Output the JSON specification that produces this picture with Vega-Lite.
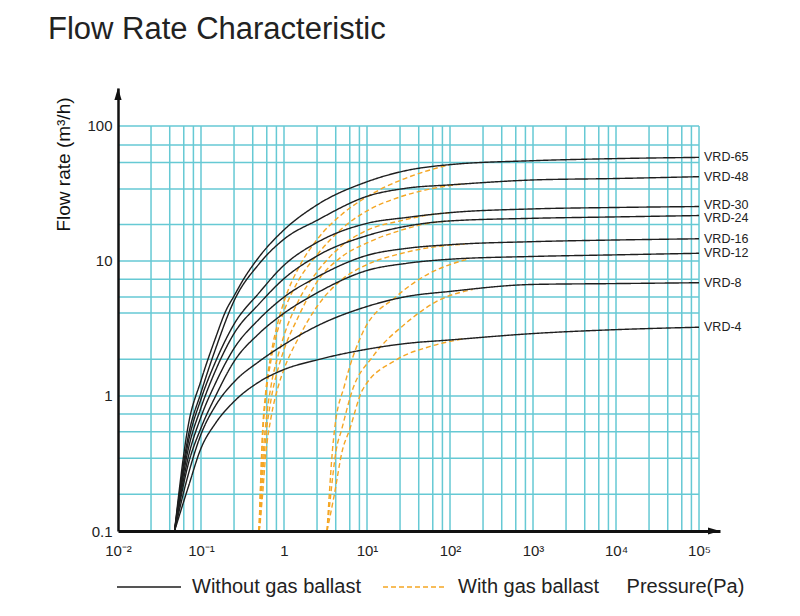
{
  "$schema": "https://vega.github.io/schema/vega-lite/v6.json",
  "width": 602,
  "height": 443,
  "autosize": {"type": "none"},
  "padding": {"left": 118, "top": 88, "right": 80, "bottom": 85},
  "background": "white",
  "title": {"text": "Flow Rate Characteristic", "anchor": "start", "frame": "group", "fontSize": 31, "font": "Liberation Sans", "fontWeight": "normal", "color": "#222222", "dx": -70, "offset": 42},
  "config": {"view": {"stroke": null}, "axis": {"labelFont": "Liberation Sans", "titleFont": "Liberation Sans"}},
  "datasets": {
    "vgrid": [
      {"v": 0.025}, {"v": 0.042}, {"v": 0.062}, {"v": 0.081}, {"v": 0.1},
      {"v": 0.25}, {"v": 0.42}, {"v": 0.62}, {"v": 0.81}, {"v": 1},
      {"v": 2.5}, {"v": 4.2}, {"v": 6.2}, {"v": 8.1}, {"v": 10},
      {"v": 25}, {"v": 42}, {"v": 62}, {"v": 81}, {"v": 100},
      {"v": 250}, {"v": 420}, {"v": 620}, {"v": 810}, {"v": 1000},
      {"v": 2500}, {"v": 4200}, {"v": 6200}, {"v": 8100}, {"v": 10000},
      {"v": 25000}, {"v": 42000}, {"v": 62000}, {"v": 81000}, {"v": 100000}
    ],
    "hgrid": [
      {"v": 0.187}, {"v": 0.346}, {"v": 0.544}, {"v": 0.735}, {"v": 1},
      {"v": 1.87}, {"v": 4.12}, {"v": 5.4}, {"v": 7.32}, {"v": 10},
      {"v": 18.6}, {"v": 34.1}, {"v": 53.5}, {"v": 72.3}, {"v": 100}
    ],
    "curves": [
      {"model": "VRD-65", "ballast": "Without gas ballast", "p": 0.048, "q": 0.1},
      {"model": "VRD-65", "ballast": "Without gas ballast", "p": 0.07, "q": 0.6},
      {"model": "VRD-65", "ballast": "Without gas ballast", "p": 0.1, "q": 1.3},
      {"model": "VRD-65", "ballast": "Without gas ballast", "p": 0.15, "q": 2.7},
      {"model": "VRD-65", "ballast": "Without gas ballast", "p": 0.2, "q": 4.3},
      {"model": "VRD-65", "ballast": "Without gas ballast", "p": 0.25, "q": 5.5},
      {"model": "VRD-65", "ballast": "Without gas ballast", "p": 0.32, "q": 7.2},
      {"model": "VRD-65", "ballast": "Without gas ballast", "p": 0.5, "q": 10.7},
      {"model": "VRD-65", "ballast": "Without gas ballast", "p": 1, "q": 17},
      {"model": "VRD-65", "ballast": "Without gas ballast", "p": 2.5, "q": 26},
      {"model": "VRD-65", "ballast": "Without gas ballast", "p": 10, "q": 38.6},
      {"model": "VRD-65", "ballast": "Without gas ballast", "p": 30, "q": 46.8},
      {"model": "VRD-65", "ballast": "Without gas ballast", "p": 100, "q": 51.7},
      {"model": "VRD-65", "ballast": "Without gas ballast", "p": 1000, "q": 55.3},
      {"model": "VRD-65", "ballast": "Without gas ballast", "p": 10000, "q": 57.3},
      {"model": "VRD-65", "ballast": "Without gas ballast", "p": 100000, "q": 58.5},

      {"model": "VRD-48", "ballast": "Without gas ballast", "p": 0.048, "q": 0.1},
      {"model": "VRD-48", "ballast": "Without gas ballast", "p": 0.07, "q": 0.5},
      {"model": "VRD-48", "ballast": "Without gas ballast", "p": 0.1, "q": 1.06},
      {"model": "VRD-48", "ballast": "Without gas ballast", "p": 0.15, "q": 2.24},
      {"model": "VRD-48", "ballast": "Without gas ballast", "p": 0.25, "q": 5.06},
      {"model": "VRD-48", "ballast": "Without gas ballast", "p": 0.5, "q": 9.5},
      {"model": "VRD-48", "ballast": "Without gas ballast", "p": 1, "q": 14.5},
      {"model": "VRD-48", "ballast": "Without gas ballast", "p": 2.5, "q": 20},
      {"model": "VRD-48", "ballast": "Without gas ballast", "p": 10, "q": 30.1},
      {"model": "VRD-48", "ballast": "Without gas ballast", "p": 30, "q": 34.6},
      {"model": "VRD-48", "ballast": "Without gas ballast", "p": 100, "q": 36.6},
      {"model": "VRD-48", "ballast": "Without gas ballast", "p": 1000, "q": 39.8},
      {"model": "VRD-48", "ballast": "Without gas ballast", "p": 10000, "q": 40.8},
      {"model": "VRD-48", "ballast": "Without gas ballast", "p": 100000, "q": 42.1},

      {"model": "VRD-30", "ballast": "Without gas ballast", "p": 0.048, "q": 0.1},
      {"model": "VRD-30", "ballast": "Without gas ballast", "p": 0.07, "q": 0.45},
      {"model": "VRD-30", "ballast": "Without gas ballast", "p": 0.1, "q": 0.95},
      {"model": "VRD-30", "ballast": "Without gas ballast", "p": 0.15, "q": 1.8},
      {"model": "VRD-30", "ballast": "Without gas ballast", "p": 0.25, "q": 3.4},
      {"model": "VRD-30", "ballast": "Without gas ballast", "p": 0.5, "q": 5.8},
      {"model": "VRD-30", "ballast": "Without gas ballast", "p": 1, "q": 9.3},
      {"model": "VRD-30", "ballast": "Without gas ballast", "p": 2.5, "q": 13.7},
      {"model": "VRD-30", "ballast": "Without gas ballast", "p": 10, "q": 19},
      {"model": "VRD-30", "ballast": "Without gas ballast", "p": 30, "q": 21},
      {"model": "VRD-30", "ballast": "Without gas ballast", "p": 100, "q": 22.8},
      {"model": "VRD-30", "ballast": "Without gas ballast", "p": 1000, "q": 24.3},
      {"model": "VRD-30", "ballast": "Without gas ballast", "p": 10000, "q": 24.9},
      {"model": "VRD-30", "ballast": "Without gas ballast", "p": 100000, "q": 25.3},

      {"model": "VRD-24", "ballast": "Without gas ballast", "p": 0.048, "q": 0.1},
      {"model": "VRD-24", "ballast": "Without gas ballast", "p": 0.07, "q": 0.4},
      {"model": "VRD-24", "ballast": "Without gas ballast", "p": 0.1, "q": 0.82},
      {"model": "VRD-24", "ballast": "Without gas ballast", "p": 0.15, "q": 1.55},
      {"model": "VRD-24", "ballast": "Without gas ballast", "p": 0.25, "q": 2.9},
      {"model": "VRD-24", "ballast": "Without gas ballast", "p": 0.5, "q": 4.8},
      {"model": "VRD-24", "ballast": "Without gas ballast", "p": 1, "q": 7.4},
      {"model": "VRD-24", "ballast": "Without gas ballast", "p": 2.5, "q": 10.9},
      {"model": "VRD-24", "ballast": "Without gas ballast", "p": 10, "q": 15.4},
      {"model": "VRD-24", "ballast": "Without gas ballast", "p": 30, "q": 18.1},
      {"model": "VRD-24", "ballast": "Without gas ballast", "p": 100, "q": 19.8},
      {"model": "VRD-24", "ballast": "Without gas ballast", "p": 1000, "q": 20.7},
      {"model": "VRD-24", "ballast": "Without gas ballast", "p": 10000, "q": 21.2},
      {"model": "VRD-24", "ballast": "Without gas ballast", "p": 100000, "q": 21.7},

      {"model": "VRD-16", "ballast": "Without gas ballast", "p": 0.048, "q": 0.1},
      {"model": "VRD-16", "ballast": "Without gas ballast", "p": 0.07, "q": 0.35},
      {"model": "VRD-16", "ballast": "Without gas ballast", "p": 0.1, "q": 0.7},
      {"model": "VRD-16", "ballast": "Without gas ballast", "p": 0.15, "q": 1.25},
      {"model": "VRD-16", "ballast": "Without gas ballast", "p": 0.25, "q": 2.25},
      {"model": "VRD-16", "ballast": "Without gas ballast", "p": 0.5, "q": 3.7},
      {"model": "VRD-16", "ballast": "Without gas ballast", "p": 1, "q": 5.4},
      {"model": "VRD-16", "ballast": "Without gas ballast", "p": 2.5, "q": 7.6},
      {"model": "VRD-16", "ballast": "Without gas ballast", "p": 10, "q": 11},
      {"model": "VRD-16", "ballast": "Without gas ballast", "p": 30, "q": 12.4},
      {"model": "VRD-16", "ballast": "Without gas ballast", "p": 100, "q": 13.2},
      {"model": "VRD-16", "ballast": "Without gas ballast", "p": 1000, "q": 13.9},
      {"model": "VRD-16", "ballast": "Without gas ballast", "p": 10000, "q": 14.3},
      {"model": "VRD-16", "ballast": "Without gas ballast", "p": 100000, "q": 14.6},

      {"model": "VRD-12", "ballast": "Without gas ballast", "p": 0.048, "q": 0.1},
      {"model": "VRD-12", "ballast": "Without gas ballast", "p": 0.07, "q": 0.31},
      {"model": "VRD-12", "ballast": "Without gas ballast", "p": 0.1, "q": 0.58},
      {"model": "VRD-12", "ballast": "Without gas ballast", "p": 0.15, "q": 1.0},
      {"model": "VRD-12", "ballast": "Without gas ballast", "p": 0.25, "q": 1.8},
      {"model": "VRD-12", "ballast": "Without gas ballast", "p": 0.5, "q": 2.9},
      {"model": "VRD-12", "ballast": "Without gas ballast", "p": 1, "q": 4.1},
      {"model": "VRD-12", "ballast": "Without gas ballast", "p": 2.5, "q": 5.8},
      {"model": "VRD-12", "ballast": "Without gas ballast", "p": 10, "q": 8.5},
      {"model": "VRD-12", "ballast": "Without gas ballast", "p": 30, "q": 9.6},
      {"model": "VRD-12", "ballast": "Without gas ballast", "p": 100, "q": 10.3},
      {"model": "VRD-12", "ballast": "Without gas ballast", "p": 1000, "q": 10.8},
      {"model": "VRD-12", "ballast": "Without gas ballast", "p": 10000, "q": 11.1},
      {"model": "VRD-12", "ballast": "Without gas ballast", "p": 100000, "q": 11.4},

      {"model": "VRD-8", "ballast": "Without gas ballast", "p": 0.048, "q": 0.1},
      {"model": "VRD-8", "ballast": "Without gas ballast", "p": 0.07, "q": 0.26},
      {"model": "VRD-8", "ballast": "Without gas ballast", "p": 0.1, "q": 0.52},
      {"model": "VRD-8", "ballast": "Without gas ballast", "p": 0.15, "q": 0.85},
      {"model": "VRD-8", "ballast": "Without gas ballast", "p": 0.25, "q": 1.27},
      {"model": "VRD-8", "ballast": "Without gas ballast", "p": 0.5, "q": 1.8},
      {"model": "VRD-8", "ballast": "Without gas ballast", "p": 1, "q": 2.4},
      {"model": "VRD-8", "ballast": "Without gas ballast", "p": 2.5, "q": 3.3},
      {"model": "VRD-8", "ballast": "Without gas ballast", "p": 10, "q": 4.6},
      {"model": "VRD-8", "ballast": "Without gas ballast", "p": 30, "q": 5.45},
      {"model": "VRD-8", "ballast": "Without gas ballast", "p": 100, "q": 5.95},
      {"model": "VRD-8", "ballast": "Without gas ballast", "p": 1000, "q": 6.7},
      {"model": "VRD-8", "ballast": "Without gas ballast", "p": 10000, "q": 6.8},
      {"model": "VRD-8", "ballast": "Without gas ballast", "p": 100000, "q": 6.9},

      {"model": "VRD-4", "ballast": "Without gas ballast", "p": 0.048, "q": 0.1},
      {"model": "VRD-4", "ballast": "Without gas ballast", "p": 0.07, "q": 0.21},
      {"model": "VRD-4", "ballast": "Without gas ballast", "p": 0.1, "q": 0.41},
      {"model": "VRD-4", "ballast": "Without gas ballast", "p": 0.15, "q": 0.63},
      {"model": "VRD-4", "ballast": "Without gas ballast", "p": 0.25, "q": 0.91},
      {"model": "VRD-4", "ballast": "Without gas ballast", "p": 0.5, "q": 1.27},
      {"model": "VRD-4", "ballast": "Without gas ballast", "p": 1, "q": 1.57},
      {"model": "VRD-4", "ballast": "Without gas ballast", "p": 2.5, "q": 1.85},
      {"model": "VRD-4", "ballast": "Without gas ballast", "p": 10, "q": 2.22},
      {"model": "VRD-4", "ballast": "Without gas ballast", "p": 30, "q": 2.45},
      {"model": "VRD-4", "ballast": "Without gas ballast", "p": 100, "q": 2.6},
      {"model": "VRD-4", "ballast": "Without gas ballast", "p": 1000, "q": 2.9},
      {"model": "VRD-4", "ballast": "Without gas ballast", "p": 10000, "q": 3.1},
      {"model": "VRD-4", "ballast": "Without gas ballast", "p": 100000, "q": 3.23},

      {"model": "VRD-65", "ballast": "With gas ballast", "p": 0.5, "q": 0.1},
      {"model": "VRD-65", "ballast": "With gas ballast", "p": 0.52, "q": 0.21},
      {"model": "VRD-65", "ballast": "With gas ballast", "p": 0.55, "q": 0.53},
      {"model": "VRD-65", "ballast": "With gas ballast", "p": 0.6, "q": 1.05},
      {"model": "VRD-65", "ballast": "With gas ballast", "p": 0.7, "q": 2.06},
      {"model": "VRD-65", "ballast": "With gas ballast", "p": 0.85, "q": 3.56},
      {"model": "VRD-65", "ballast": "With gas ballast", "p": 1, "q": 5.0},
      {"model": "VRD-65", "ballast": "With gas ballast", "p": 1.5, "q": 8.9},
      {"model": "VRD-65", "ballast": "With gas ballast", "p": 2.5, "q": 14.4},
      {"model": "VRD-65", "ballast": "With gas ballast", "p": 5, "q": 22.2},
      {"model": "VRD-65", "ballast": "With gas ballast", "p": 10, "q": 29.9},
      {"model": "VRD-65", "ballast": "With gas ballast", "p": 25, "q": 39.5},
      {"model": "VRD-65", "ballast": "With gas ballast", "p": 50, "q": 46},
      {"model": "VRD-65", "ballast": "With gas ballast", "p": 100, "q": 51.7},

      {"model": "VRD-48", "ballast": "With gas ballast", "p": 0.5, "q": 0.1},
      {"model": "VRD-48", "ballast": "With gas ballast", "p": 0.52, "q": 0.19},
      {"model": "VRD-48", "ballast": "With gas ballast", "p": 0.55, "q": 0.47},
      {"model": "VRD-48", "ballast": "With gas ballast", "p": 0.6, "q": 0.95},
      {"model": "VRD-48", "ballast": "With gas ballast", "p": 0.7, "q": 1.87},
      {"model": "VRD-48", "ballast": "With gas ballast", "p": 0.85, "q": 3.15},
      {"model": "VRD-48", "ballast": "With gas ballast", "p": 1, "q": 4.25},
      {"model": "VRD-48", "ballast": "With gas ballast", "p": 1.5, "q": 7.2},
      {"model": "VRD-48", "ballast": "With gas ballast", "p": 2.5, "q": 11.1},
      {"model": "VRD-48", "ballast": "With gas ballast", "p": 5, "q": 17.4},
      {"model": "VRD-48", "ballast": "With gas ballast", "p": 10, "q": 23.5},
      {"model": "VRD-48", "ballast": "With gas ballast", "p": 25, "q": 29.8},
      {"model": "VRD-48", "ballast": "With gas ballast", "p": 50, "q": 33.5},
      {"model": "VRD-48", "ballast": "With gas ballast", "p": 100, "q": 36.2},
      {"model": "VRD-48", "ballast": "With gas ballast", "p": 150, "q": 37.2},

      {"model": "VRD-30", "ballast": "With gas ballast", "p": 0.5, "q": 0.1},
      {"model": "VRD-30", "ballast": "With gas ballast", "p": 0.52, "q": 0.12},
      {"model": "VRD-30", "ballast": "With gas ballast", "p": 0.55, "q": 0.3},
      {"model": "VRD-30", "ballast": "With gas ballast", "p": 0.6, "q": 0.6},
      {"model": "VRD-30", "ballast": "With gas ballast", "p": 0.7, "q": 1.2},
      {"model": "VRD-30", "ballast": "With gas ballast", "p": 0.85, "q": 2.0},
      {"model": "VRD-30", "ballast": "With gas ballast", "p": 1, "q": 2.8},
      {"model": "VRD-30", "ballast": "With gas ballast", "p": 1.5, "q": 5.1},
      {"model": "VRD-30", "ballast": "With gas ballast", "p": 2.5, "q": 8.3},
      {"model": "VRD-30", "ballast": "With gas ballast", "p": 5, "q": 13.0},
      {"model": "VRD-30", "ballast": "With gas ballast", "p": 10, "q": 16.9},
      {"model": "VRD-30", "ballast": "With gas ballast", "p": 25, "q": 19.8},
      {"model": "VRD-30", "ballast": "With gas ballast", "p": 50, "q": 21.7},
      {"model": "VRD-30", "ballast": "With gas ballast", "p": 100, "q": 22.8},

      {"model": "VRD-24", "ballast": "With gas ballast", "p": 0.5, "q": 0.1},
      {"model": "VRD-24", "ballast": "With gas ballast", "p": 0.55, "q": 0.24},
      {"model": "VRD-24", "ballast": "With gas ballast", "p": 0.6, "q": 0.48},
      {"model": "VRD-24", "ballast": "With gas ballast", "p": 0.7, "q": 0.95},
      {"model": "VRD-24", "ballast": "With gas ballast", "p": 0.85, "q": 1.6},
      {"model": "VRD-24", "ballast": "With gas ballast", "p": 1, "q": 2.2},
      {"model": "VRD-24", "ballast": "With gas ballast", "p": 1.5, "q": 3.9},
      {"model": "VRD-24", "ballast": "With gas ballast", "p": 2.5, "q": 7.0},
      {"model": "VRD-24", "ballast": "With gas ballast", "p": 5, "q": 10.8},
      {"model": "VRD-24", "ballast": "With gas ballast", "p": 10, "q": 13.6},
      {"model": "VRD-24", "ballast": "With gas ballast", "p": 25, "q": 16.8},
      {"model": "VRD-24", "ballast": "With gas ballast", "p": 50, "q": 18.8},
      {"model": "VRD-24", "ballast": "With gas ballast", "p": 100, "q": 19.8},

      {"model": "VRD-16", "ballast": "With gas ballast", "p": 0.5, "q": 0.1},
      {"model": "VRD-16", "ballast": "With gas ballast", "p": 0.55, "q": 0.18},
      {"model": "VRD-16", "ballast": "With gas ballast", "p": 0.6, "q": 0.36},
      {"model": "VRD-16", "ballast": "With gas ballast", "p": 0.7, "q": 0.7},
      {"model": "VRD-16", "ballast": "With gas ballast", "p": 0.85, "q": 1.17},
      {"model": "VRD-16", "ballast": "With gas ballast", "p": 1, "q": 1.58},
      {"model": "VRD-16", "ballast": "With gas ballast", "p": 1.5, "q": 2.7},
      {"model": "VRD-16", "ballast": "With gas ballast", "p": 2.5, "q": 4.6},
      {"model": "VRD-16", "ballast": "With gas ballast", "p": 5, "q": 7.3},
      {"model": "VRD-16", "ballast": "With gas ballast", "p": 10, "q": 9.4},
      {"model": "VRD-16", "ballast": "With gas ballast", "p": 25, "q": 11.3},
      {"model": "VRD-16", "ballast": "With gas ballast", "p": 50, "q": 12.4},
      {"model": "VRD-16", "ballast": "With gas ballast", "p": 100, "q": 13.1},
      {"model": "VRD-16", "ballast": "With gas ballast", "p": 150, "q": 13.3},

      {"model": "VRD-12", "ballast": "With gas ballast", "p": 3.3, "q": 0.1},
      {"model": "VRD-12", "ballast": "With gas ballast", "p": 3.5, "q": 0.18},
      {"model": "VRD-12", "ballast": "With gas ballast", "p": 3.84, "q": 0.4},
      {"model": "VRD-12", "ballast": "With gas ballast", "p": 4.06, "q": 0.56},
      {"model": "VRD-12", "ballast": "With gas ballast", "p": 5.36, "q": 1.2},
      {"model": "VRD-12", "ballast": "With gas ballast", "p": 8.83, "q": 2.93},
      {"model": "VRD-12", "ballast": "With gas ballast", "p": 22.5, "q": 5.44},
      {"model": "VRD-12", "ballast": "With gas ballast", "p": 56.6, "q": 8.1},
      {"model": "VRD-12", "ballast": "With gas ballast", "p": 100, "q": 9.4},
      {"model": "VRD-12", "ballast": "With gas ballast", "p": 172, "q": 10.4},

      {"model": "VRD-8", "ballast": "With gas ballast", "p": 3.3, "q": 0.1},
      {"model": "VRD-8", "ballast": "With gas ballast", "p": 3.6, "q": 0.17},
      {"model": "VRD-8", "ballast": "With gas ballast", "p": 4.26, "q": 0.4},
      {"model": "VRD-8", "ballast": "With gas ballast", "p": 4.93, "q": 0.56},
      {"model": "VRD-8", "ballast": "With gas ballast", "p": 6.68, "q": 1.11},
      {"model": "VRD-8", "ballast": "With gas ballast", "p": 11.6, "q": 1.94},
      {"model": "VRD-8", "ballast": "With gas ballast", "p": 29.6, "q": 3.47},
      {"model": "VRD-8", "ballast": "With gas ballast", "p": 74.6, "q": 5.14},
      {"model": "VRD-8", "ballast": "With gas ballast", "p": 187, "q": 6.15},

      {"model": "VRD-4", "ballast": "With gas ballast", "p": 3.3, "q": 0.1},
      {"model": "VRD-4", "ballast": "With gas ballast", "p": 4, "q": 0.18},
      {"model": "VRD-4", "ballast": "With gas ballast", "p": 5.07, "q": 0.4},
      {"model": "VRD-4", "ballast": "With gas ballast", "p": 6.15, "q": 0.56},
      {"model": "VRD-4", "ballast": "With gas ballast", "p": 8.83, "q": 1.11},
      {"model": "VRD-4", "ballast": "With gas ballast", "p": 22.5, "q": 1.85},
      {"model": "VRD-4", "ballast": "With gas ballast", "p": 56.6, "q": 2.32},
      {"model": "VRD-4", "ballast": "With gas ballast", "p": 143, "q": 2.65}
    ]
  },
  "layer": [
    {
      "data": {"name": "vgrid"},
      "mark": {"type": "rule", "stroke": "#66c9d4", "strokeWidth": 1.5},
      "encoding": {
        "x": {"field": "v", "type": "quantitative", "scale": {"type": "log", "domain": [0.01, 179000], "nice": false},
          "axis": {"values": [0.01, 0.1, 1, 10, 100, 1000, 10000, 100000], "grid": false, "ticks": false, "domain": true, "domainColor": "#111111", "domainWidth": 2.8, "labelFontSize": 15, "labelColor": "#222222", "labelPadding": 12, "labelFlush": false, "labelOverlap": false, "zindex": 2,
            "labelExpr": "datum.value < 0.05 ? '10⁻²' : datum.value < 0.5 ? '10⁻¹' : datum.value < 5 ? '1' : datum.value < 50 ? '10¹' : datum.value < 500 ? '10²' : datum.value < 5000 ? '10³' : datum.value < 50000 ? '10⁴' : '10⁵'",
            "title": "Pressure(Pa)", "titleFontSize": 20, "titleFontWeight": "normal", "titleColor": "#222222", "titleX": 567, "titleY": 55, "titleAlign": "center", "titleBaseline": "middle"}},
        "y": {"datum": 0.1, "type": "quantitative", "scale": {"type": "log", "domain": [0.1, 191], "nice": false},
          "axis": {"values": [0.1, 1, 10, 100], "grid": false, "ticks": false, "domain": true, "domainColor": "#111111", "domainWidth": 2.5, "labelFontSize": 15, "labelColor": "#222222", "labelPadding": 6, "labelFlush": false, "labelOverlap": false, "zindex": 2,
            "labelExpr": "datum.value < 0.5 ? '0.1' : datum.value < 5 ? '1' : datum.value < 50 ? '10' : '100'",
            "title": "Flow rate (m³/h)", "titleFontSize": 19, "titleFontWeight": "normal", "titleColor": "#111111", "titleX": -55, "titleY": 76, "titleAngle": 270, "titleAlign": "center", "titleBaseline": "middle"}},
        "y2": {"datum": 100}
      }
    },
    {
      "data": {"name": "hgrid"},
      "mark": {"type": "rule", "stroke": "#66c9d4", "strokeWidth": 1.5},
      "encoding": {
        "y": {"field": "v", "type": "quantitative", "title": "Flow rate (m³/h)"},
        "x": {"datum": 0.01, "type": "quantitative", "title": "Pressure(Pa)"},
        "x2": {"datum": 100000}
      }
    },
    {
      "data": {"name": "curves"},
      "transform": [{"filter": "datum.ballast == 'With gas ballast'"}],
      "mark": {"type": "line", "interpolate": "monotone", "strokeWidth": 1.4},
      "encoding": {
        "x": {"field": "p", "type": "quantitative", "title": "Pressure(Pa)"},
        "y": {"field": "q", "type": "quantitative", "title": "Flow rate (m³/h)"},
        "detail": {"field": "model"},
        "color": {"field": "ballast", "type": "nominal", "scale": {"domain": ["Without gas ballast", "With gas ballast"], "range": ["#1e1e1e", "#f5a623"]},
          "legend": {"orient": "none", "legendX": -2, "legendY": 466, "direction": "horizontal", "title": null, "symbolType": "stroke", "symbolSize": 4096, "symbolStrokeWidth": 1.6, "labelFontSize": 20, "labelFont": "Liberation Sans", "labelColor": "#222222", "labelOffset": 10, "columnPadding": 18, "labelLimit": 400}},
        "strokeDash": {"field": "ballast", "type": "nominal", "scale": {"domain": ["Without gas ballast", "With gas ballast"], "range": [[1, 0], [5, 3]]},
          "legend": {"orient": "none", "legendX": -2, "legendY": 466, "direction": "horizontal", "title": null, "symbolType": "stroke", "symbolSize": 4096, "symbolStrokeWidth": 1.6, "labelFontSize": 20, "labelFont": "Liberation Sans", "labelColor": "#222222", "labelOffset": 10, "columnPadding": 18, "labelLimit": 400}}
      }
    },
    {
      "data": {"name": "curves"},
      "transform": [{"filter": "datum.ballast == 'Without gas ballast'"}],
      "mark": {"type": "line", "interpolate": "monotone", "strokeWidth": 1.4},
      "encoding": {
        "x": {"field": "p", "type": "quantitative", "title": "Pressure(Pa)"},
        "y": {"field": "q", "type": "quantitative", "title": "Flow rate (m³/h)"},
        "detail": {"field": "model"},
        "color": {"field": "ballast", "type": "nominal", "scale": {"domain": ["Without gas ballast", "With gas ballast"], "range": ["#1e1e1e", "#f5a623"]},
          "legend": {"orient": "none", "legendX": -2, "legendY": 466, "direction": "horizontal", "title": null, "symbolType": "stroke", "symbolSize": 4096, "symbolStrokeWidth": 1.6, "labelFontSize": 20, "labelFont": "Liberation Sans", "labelColor": "#222222", "labelOffset": 10, "columnPadding": 18, "labelLimit": 400}},
        "strokeDash": {"field": "ballast", "type": "nominal", "scale": {"domain": ["Without gas ballast", "With gas ballast"], "range": [[1, 0], [5, 3]]},
          "legend": {"orient": "none", "legendX": -2, "legendY": 466, "direction": "horizontal", "title": null, "symbolType": "stroke", "symbolSize": 4096, "symbolStrokeWidth": 1.6, "labelFontSize": 20, "labelFont": "Liberation Sans", "labelColor": "#222222", "labelOffset": 10, "columnPadding": 18, "labelLimit": 400}}
      }
    },
    {
      "data": {"name": "curves"},
      "transform": [{"filter": "datum.ballast == 'Without gas ballast' && datum.p == 100000 && datum.model != 'VRD-30' && datum.model != 'VRD-24'"}],
      "mark": {"type": "text", "align": "left", "baseline": "middle", "dx": 5, "fontSize": 12.5, "font": "Liberation Sans", "color": "#222222"},
      "encoding": {
        "x": {"field": "p", "type": "quantitative", "title": "Pressure(Pa)"},
        "y": {"field": "q", "type": "quantitative", "title": "Flow rate (m³/h)"},
        "text": {"field": "model"}
      }
    },
    {
      "data": {"name": "curves"},
      "transform": [{"filter": "datum.ballast == 'Without gas ballast' && datum.p == 100000 && datum.model == 'VRD-30'"}],
      "mark": {"type": "text", "align": "left", "baseline": "middle", "dx": 5, "dy": -2, "fontSize": 12.5, "font": "Liberation Sans", "color": "#222222"},
      "encoding": {
        "x": {"field": "p", "type": "quantitative", "title": "Pressure(Pa)"},
        "y": {"field": "q", "type": "quantitative", "title": "Flow rate (m³/h)"},
        "text": {"field": "model"}
      }
    },
    {
      "data": {"name": "curves"},
      "transform": [{"filter": "datum.ballast == 'Without gas ballast' && datum.p == 100000 && datum.model == 'VRD-24'"}],
      "mark": {"type": "text", "align": "left", "baseline": "middle", "dx": 5, "dy": 2, "fontSize": 12.5, "font": "Liberation Sans", "color": "#222222"},
      "encoding": {
        "x": {"field": "p", "type": "quantitative", "title": "Pressure(Pa)"},
        "y": {"field": "q", "type": "quantitative", "title": "Flow rate (m³/h)"},
        "text": {"field": "model"}
      }
    },
    {
      "data": {"values": [{}]},
      "mark": {"type": "point", "shape": "M -2 -0.6 L 0 0 L -2 0.6 Z", "filled": true, "color": "#111111", "size": 144, "opacity": 1},
      "encoding": {
        "x": {"datum": 179000, "type": "quantitative", "title": "Pressure(Pa)"},
        "y": {"datum": 0.1, "type": "quantitative", "title": "Flow rate (m³/h)"}
      }
    },
    {
      "data": {"values": [{}]},
      "mark": {"type": "point", "shape": "M -0.6 2 L 0 0 L 0.6 2 Z", "filled": true, "color": "#111111", "size": 144, "opacity": 1},
      "encoding": {
        "x": {"datum": 0.01, "type": "quantitative", "title": "Pressure(Pa)"},
        "y": {"datum": 191, "type": "quantitative", "title": "Flow rate (m³/h)"}
      }
    }
  ]
}
